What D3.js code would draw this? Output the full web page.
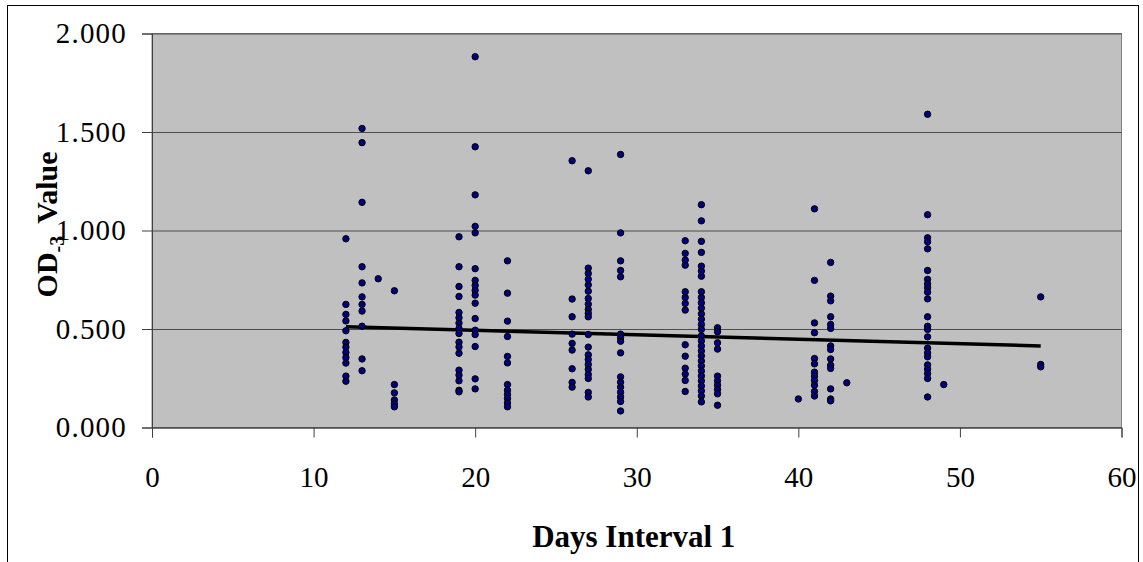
<!DOCTYPE html>
<html>
<head>
<meta charset="utf-8">
<script src="https://cdn.jsdelivr.net/npm/d3@7"></script>
<style>
  body { margin: 0; background: #fff; }
  svg { display: block; font-family: "Liberation Serif", "Times New Roman", serif; }
</style>
</head>
<body>
<div id="chart_div"></div>
<script>
// interval days (x) and the OD-3 readings taken at each of them
var days = [12, 13, 14, 15, 19, 20, 22, 26, 27, 29, 33, 34, 35, 40, 41, 42, 43, 48, 49, 55];
var odValues = [
  [0.958, 0.625, 0.574, 0.541, 0.491, 0.432, 0.408, 0.381, 0.355, 0.327, 0.261, 0.235],
  [1.518, 1.446, 1.143, 0.816, 0.734, 0.663, 0.625, 0.591, 0.514, 0.348, 0.288],
  [0.755],
  [0.694, 0.218, 0.176, 0.140, 0.120, 0.105],
  [0.968, 0.816, 0.716, 0.665, 0.584, 0.557, 0.530, 0.503, 0.477, 0.433, 0.409, 0.377, 0.291, 0.266, 0.237, 0.189, 0.181],
  [1.882, 1.425, 1.181, 1.021, 0.988, 0.806, 0.747, 0.721, 0.696, 0.672, 0.631, 0.553, 0.494, 0.472, 0.411, 0.247, 0.196],
  [0.846, 0.682, 0.540, 0.462, 0.361, 0.328, 0.218, 0.189, 0.168, 0.147, 0.125, 0.105],
  [1.354, 0.652, 0.562, 0.474, 0.427, 0.393, 0.298, 0.229, 0.205],
  [1.303, 0.809, 0.782, 0.753, 0.724, 0.692, 0.655, 0.626, 0.599, 0.579, 0.562, 0.472, 0.408, 0.369, 0.345, 0.320, 0.295, 0.269, 0.249, 0.178, 0.155],
  [1.386, 0.988, 0.846, 0.797, 0.765, 0.474, 0.457, 0.438, 0.379, 0.257, 0.230, 0.205, 0.179, 0.155, 0.132, 0.084],
  [0.948, 0.884, 0.850, 0.824, 0.689, 0.660, 0.630, 0.596, 0.420, 0.362, 0.301, 0.271, 0.239, 0.183],
  [1.131, 1.049, 0.945, 0.889, 0.819, 0.794, 0.768, 0.689, 0.660, 0.633, 0.606, 0.577, 0.550, 0.523, 0.498, 0.465, 0.440, 0.414, 0.389, 0.364, 0.338, 0.313, 0.287, 0.262, 0.237, 0.211, 0.186, 0.160, 0.130],
  [0.506, 0.486, 0.430, 0.398, 0.261, 0.237, 0.215, 0.193, 0.171, 0.113],
  [0.145],
  [1.110, 0.747, 0.531, 0.481, 0.350, 0.323, 0.281, 0.261, 0.239, 0.215, 0.183, 0.160],
  [0.838, 0.667, 0.643, 0.562, 0.523, 0.503, 0.414, 0.396, 0.348, 0.316, 0.300, 0.196, 0.145, 0.135],
  [0.227],
  [1.590, 1.080, 0.963, 0.943, 0.907, 0.797, 0.752, 0.729, 0.709, 0.687, 0.653, 0.562, 0.514, 0.498, 0.460, 0.403, 0.379, 0.359, 0.318, 0.296, 0.274, 0.249, 0.155],
  [0.218],
  [0.663, 0.320, 0.308]
];
// linear trendline ends as drawn
var trendDays = [12, 55];
var trendValues = [0.511, 0.414];

var xTicks = [0, 10, 20, 30, 40, 50, 60];
var yTicks = [0, 0.5, 1, 1.5, 2];

var full_width = 1143, full_height = 562;
var margin = {top: 33.5, right: 21.5, bottom: 134.5, left: 152},
    width = full_width - margin.left - margin.right,
    height = full_height - margin.top - margin.bottom;

var points = [];
days.forEach(function(d, i) {
  odValues[i].forEach(function(v) { points.push({day: d, od: v}); });
});

var xScale = d3.scaleLinear().domain([0, 60]).range([0, width]);
var yScale = d3.scaleLinear().domain([0, 2]).range([height, 0]);

var root = d3.select("#chart_div").append("svg")
  .attr("width", full_width)
  .attr("height", full_height);

// chart border (bottom runs off the picture)
root.append("rect")
  .attr("x", 7.5).attr("y", 5.5)
  .attr("width", 1131).attr("height", 620)
  .style("fill", "#fff")
  .style("stroke", "#000")
  .style("stroke-width", "1px");

var svg = root.append("g")
  .attr("transform", "translate(" + margin.left + "," + margin.top + ")");

svg.append("rect")
  .attr("width", width).attr("height", height)
  .style("fill", "#c0c0c0")
  .style("stroke", "#808080")
  .style("stroke-width", "1px");

// gridlines
svg.append("g")
  .attr("class", "grid")
  .call(d3.axisLeft(yScale).tickValues(yTicks).tickSize(-width).tickFormat(""))
  .call(function(g) { g.select(".domain").remove(); })
  .selectAll("line")
  .style("stroke", "#4d4d4d")
  .style("stroke-width", "1px");

// trendline
var trend = d3.line()
  .x(function(d) { return xScale(d[0]); })
  .y(function(d) { return yScale(d[1]); });

svg.append("path")
  .datum(d3.zip(trendDays, trendValues))
  .attr("d", trend)
  .style("fill", "none")
  .style("stroke", "#000")
  .style("stroke-width", "3.5px");

svg.selectAll("circle.point")
  .data(points)
  .enter().append("circle")
  .attr("class", "point")
  .attr("cx", function(d) { return xScale(d.day); })
  .attr("cy", function(d) { return yScale(d.od); })
  .attr("r", 3.2)
  .style("fill", "#000080")
  .style("stroke", "#000")
  .style("stroke-width", "1px");

// axes
svg.append("g")
  .attr("class", "xaxis")
  .attr("transform", "translate(0," + height + ")")
  .call(d3.axisBottom(xScale).tickValues(xTicks).tickSize(10).tickPadding(29).tickFormat(d3.format("d")));

svg.append("g")
  .attr("class", "yaxis")
  .call(d3.axisLeft(yScale).tickValues(yTicks).tickSize(10).tickPadding(15).tickFormat(d3.format(".3f")));

svg.selectAll(".xaxis text, .yaxis text")
  .style("font-family", "'Liberation Serif', serif")
  .style("font-size", "29px")
  .style("fill", "#000");

svg.selectAll(".yaxis text")
  .style("letter-spacing", "1.2px");

svg.selectAll(".xaxis path.domain, .yaxis path.domain, .xaxis line, .yaxis line")
  .style("stroke", "#404040")
  .style("stroke-width", "1px");

// axis titles
svg.append("text")
  .attr("text-anchor", "middle")
  .attr("x", width / 2 - 3)
  .attr("y", height + 119)
  .style("font-size", "31px")
  .style("font-weight", "bold")
  .text("Days Interval 1");

var ylab = svg.append("text")
  .attr("text-anchor", "middle")
  .attr("transform", "rotate(-90)")
  .attr("x", -(height / 2) + 6)
  .attr("y", -95)
  .style("font-size", "30px")
  .style("font-weight", "bold");
ylab.append("tspan").text("OD");
ylab.append("tspan").attr("dy", "7").style("font-size", "20px").text("-3");
ylab.append("tspan").attr("dy", "-7").attr("dx", "12").text("Value");
</script>
</body>
</html>
